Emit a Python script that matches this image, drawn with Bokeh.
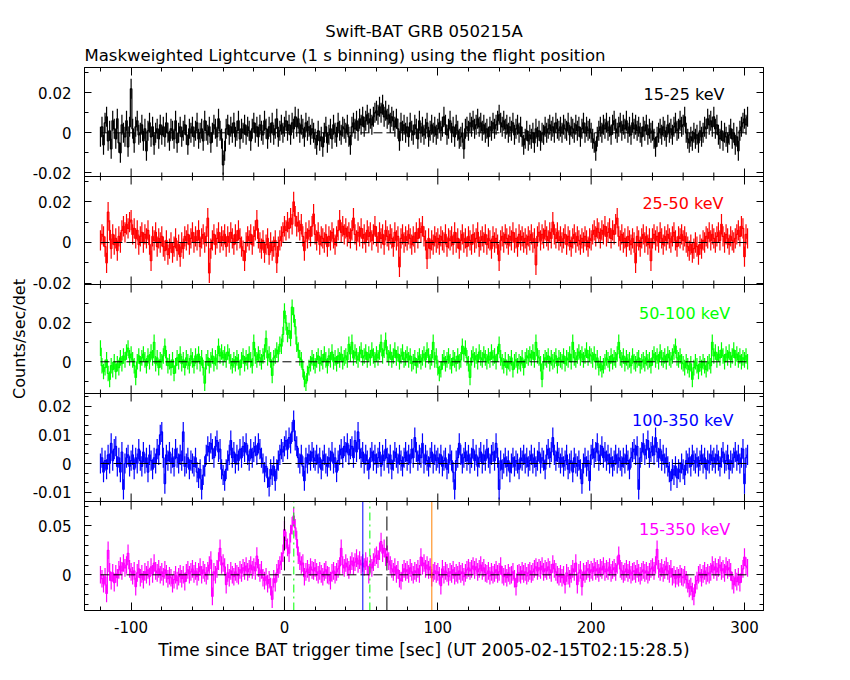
import numpy as np
from bokeh.plotting import figure
from bokeh.models import (Range1d, LinearAxis, SingleIntervalTicker, FixedTicker,
                          CustomJSTickFormatter, Span, Label, Title)
from bokeh.embed import file_html
from bokeh.resources import INLINE

# ---------------- data (1 s bins, rates in 1e-3 counts/sec/det) ----------------
T_START = -120  # centre of first 1-s bin [s since trigger]

RATE_15_25 = [
    -2, 3, -6, 5, 8, -4, 1, -8, 6, 2, -3, 7, -5, -10, 4, 0, -2, 6, -7, 3,
    22, 2, -5, 3, 6, -1, 0, 4, -4, 2, -9, 1, 5, -2, 3, -6, 0, 2, -3, 4,
    -1, 3, -2, 5, 0, -4, 2, 1, -3, 6, -5, 0, 3, -2, 1, 4, -1, -6, 2, 0,
    3, -2, 1, 5, -3, 0, 2, -4, 6, 1, -1, 3, -5, 0, 4, 2, -2, 7, 1, -3,
    -16, -9, 2, 4, -1, 3, 0, 5, -2, 1, 6, -3, 2, 0, 4, -1, 3, 1, -4, 2,
    5, 0, 3, -2, 4, 1, -1, 6, 2, -3, 3, 0, 5, -1, 2, 7, -2, 1, 4, 0,
    3, 6, 1, 4, -1, 5, 2, 8, 3, 7, 0, 4, 2, -2, 5, 1, 3, -1, 2, 0,
    -3, -6, 1, -4, -2, -7, 0, 3, -5, -1, 2, -3, 4, 0, -2, 5, 1, -1, 3, 2,
    0, 4, -2, -6, 3, 5, 2, 6, 1, 7, 4, 8, 3, 6, 9, 5, 7, 4, 8, 10,
    11, 9, 13, 10, 14, 8, 11, 7, 9, 5, 8, 6, 3, 7, 2, -4, 5, 1, 4, 0,
    3, -2, 5, 1, -1, 4, 2, -3, 6, 0, 3, -1, 2, 5, -2, 1, 4, 0, 3, -1,
    2, 5, 1, 3, 8, 4, -1, 2, 6, 0, 3, -2, 4, 1, -3, -2, 0, -8, 2, 3,
    1, 5, 3, 6, 2, 4, 7, 3, 5, 1, 4, 0, 2, -2, 3, 1, 5, 2, 4, 6,
    9, 5, 3, 6, 2, 4, 0, 3, 1, 5, -1, 2, 4, 0, 3, -2, -6, -3, 1, -4,
    -1, -3, 0, -5, 2, -2, 1, -4, 0, -1, 3, 0, 2, 4, 1, 3, 0, 5, 2, 1,
    3, 0, 4, 2, 1, 5, -1, 3, 2, 0, 4, 1, 3, -2, 2, 5, 0, 3, 1, 2,
    0, -3, -5, -9, -2, 1, 3, 0, 4, 2, 5, 1, 3, -1, 4, 6, 2, 0, 3, 5,
    1, 4, 2, 6, 0, 3, -1, 5, 2, 4, 1, 3, 0, -2, 3, 1, 4, -1, 2, 0,
    1, -3, -7, -2, 0, 2, -1, 3, 1, -2, 4, 0, 2, -1, 3, 5, 1, 2, 6, 3,
    4, 8, 0, -3, -5, -2, -4, 0, -3, -1, -5, 1, -2, 0, 3, 2, 7, 4, 6, 3,
    8, 2, 4, -1, -3, 1, -4, 0, -2, -5, -1, 2, -3, 0, -6, -2, -9, 1, 3, 5,
    7, 4, 8,
]

RATE_25_50 = [
    1, 4, 3, -2, -10, 15, 6, -3, 4, -1, 2, -4, 3, 0, 6, 8, 5, 9, 7, 10,
    11, 4, 7, 2, 6, -1, 3, 5, 0, 4, 2, 6, -1, -9, 3, 1, 5, -2, 2, 0,
    3, -2, -4, 1, -6, -3, 0, -5, -2, 2, -4, -1, -7, 0, -3, 3, 1, 4, -1, 2,
    5, 0, 3, 1, 6, -2, 2, 4, 0, 3, 12, -15, -3, 1, 4, -1, 2, 5, 0, 3,
    1, 4, -2, 3, 0, 5, 2, -1, 4, 1, 6, 2, -2, -4, -9, 0, 3, 1, 4, -1,
    3, 6, 11, 2, 0, -3, 1, -5, -1, 2, -6, 0, -4, -2, 1, -10, -2, 1, 3, 5,
    8, 6, 10, 7, 12, 9, 20, 13, 8, 10, 6, 9, 3, -4, 5, 2, 6, 3, 8, 14,
    4, 1, 5, -1, 3, 2, 0, 4, -2, 3, 1, 5, 2, -1, 3, 6, 11, 5, 8, 4,
    7, 3, 5, 2, 6, 12, 4, 1, 5, 3, 7, 2, 4, 0, 6, 3, 5, 1, 4, 8,
    3, 0, 5, 2, 4, -1, 6, 3, 1, 4, 2, -2, 5, 1, 3, -12, 2, 4, 0, 3,
    1, 4, 2, -1, 3, 0, 5, 2, 7, 5, 8, 3, 1, -8, 2, -3, 1, -1, 3, 0,
    2, -1, 3, 1, 0, 4, -2, 2, 1, 3, -1, 5, 0, 2, -3, 1, 4, 0, 2, -2,
    3, 1, -1, 4, 0, 2, 5, -2, 1, 3, 0, 4, -1, 2, 1, -3, 3, 0, 2, -1,
    -9, 1, 3, 0, 4, 2, -1, 3, 1, 5, 0, 2, -2, 4, 1, 3, 0, 2, -1, 3,
    1, 4, 0, 2, -11, 3, 5, 1, 4, 2, 6, 3, 1, 5, 2, 10, 4, 2, 5, 1,
    3, 0, 2, 4, -1, 3, 1, -2, 2, 4, 0, 3, 1, -1, 2, 0, 3, 1, -2, 2,
    1, 4, 6, 3, 7, 5, 2, 6, 4, 8, 3, 5, 7, 2, 6, 4, 9, 12, 3, 1,
    4, 0, 2, -2, 3, 1, -1, 2, 0, -10, 3, 1, -2, 2, 4, 0, 3, -1, 2, -9,
    2, 4, 1, 3, 0, 5, 2, -1, 3, 1, 4, 2, 0, 3, 5, 1, -2, 3, 2, 4,
    1, 3, 0, -2, -4, -1, -5, -3, 0, -2, -6, -1, -3, 1, 0, 3, 2, 5, 1, 4,
    2, 0, 3, 5, 1, 9, 3, 0, 4, 2, -1, 3, 1, 0, 2, 4, 6, 3, 8, 7,
    -7, 4, 2,
]

RATE_50_100 = [
    7, -2, -5, -3, 1, -6, -9, -2, -4, 0, -5, -1, -3, 2, -1, 3, 1, 5, 7, 2,
    4, 1, -2, -8, 0, 3, -1, 2, 4, 1, -2, 3, 0, 5, 2, 10, -1, 2, -3, 1,
    0, 3, 8, 2, -2, 0, -3, 1, -6, -2, 2, 0, 4, -1, 1, -3, 2, 0, -2, 3,
    1, -2, 3, 0, 4, -1, 2, -3, -11, 0, 2, -2, 1, 3, -1, 2, 0, 8, 3, 5,
    2, 4, 1, 5, 3, 0, -2, 1, -1, 2, 0, -3, 1, 3, -1, 2, 0, 4, 1, -2,
    10, 3, 1, 4, 2, 0, 3, 5, 12, 2, 4, 1, -7, 2, 3, 6, 4, 9, 8, 14,
    26, 20, 14, 16, 12, 28, 24, 18, 9, 6, 2, 1, -4, -9, -11, -6, -3, -1, 2, 0,
    -2, 1, 3, -1, 2, 0, 4, 1, -2, 3, 1, 5, 0, 2, -1, 3, 1, 4, 0, 2,
    3, 1, 9, 4, 10, 2, 5, 3, 1, 4, 6, 2, 3, 5, 1, 4, 2, 6, 3, 1,
    4, 2, 5, 10, 3, 6, 11, 4, 2, 5, 1, 3, 6, 2, 4, 0, 3, 5, 1, 2,
    4, 1, 3, -1, 0, 2, -2, 1, 3, 0, 2, 4, 1, 6, 3, 0, 2, 10, 1, 3,
    -3, -6, -4, 0, 2, -1, 1, 3, 0, -2, 2, 1, -1, 3, 0, 1, 8, 4, 7, 2,
    -1, -8, 2, 4, 1, 3, 0, 5, 2, 1, 4, 2, 0, 3, 1, 5, 2, 3, 0, 4,
    9, 2, 0, -2, 1, -3, 0, -1, 2, -4, 0, 1, -2, 0, -1, 2, -3, 1, 3, 2,
    4, 2, 5, 1, 10, 3, 2, -1, -9, 0, 2, 1, 3, -1, 2, 0, 1, 3, -2, 2,
    1, 0, 3, -1, 2, 1, 4, 0, 10, 2, 1, 3, 5, 2, 4, 1, 3, 6, 2, 4,
    3, 1, 4, 0, 2, -3, -1, -4, -2, 0, 2, 1, -1, 3, 0, 2, 1, 4, 10, 2,
    1, 3, -1, 2, 0, 1, -2, 3, 0, -1, 1, 2, -2, 0, 1, -1, 2, 0, 1, -2,
    2, 4, 1, 3, 0, 5, 2, 1, 3, 0, 4, 2, 1, 3, 5, 8, 2, 1, 3, 0,
    -1, -3, 0, -2, -4, -1, -9, -3, 0, -2, -5, -1, -3, 0, -2, -4, -1, 0, -2, 10,
    3, 5, 1, 4, 2, 6, 3, 0, 4, 2, 5, 1, 3, 6, 2, 4, 1, 3, 0, 2,
    1, 3, 0,
]

RATE_100_350 = [
    0, 2, -3, 1, -2, 3, 0, 7, 1, 5, 6, -1, 2, -3, 4, -9, 0, 2, 3, -1,
    1, 3, -2, 2, 0, 5, 1, -1, 4, 0, 2, -3, 3, 1, -2, 2, 0, 5, 3, 10,
    11, 2, -7, 3, 1, 4, 0, 2, -1, 5, 2, 0, 3, 1, 11, -1, 0, 2, -2, 1,
    0, -1, 2, -3, -5, -2, -9, -4, -1, 3, 6, 4, 7, 5, 2, 6, 8, 4, 5, -2,
    -4, -6, -2, 1, 3, 8, 2, 4, 0, 3, 1, 5, 2, 6, 4, 7, 3, 1, 5, 2,
    4, 6, 3, 7, 5, 2, 0, -3, -1, -5, -8, -2, -4, -1, -6, -2, 1, 3, 5, 4,
    6, 8, 5, 9, 7, 11, 15, 8, 6, 2, 0, 3, -1, -6, 2, 0, 3, 1, 4, 2,
    1, 3, 0, 2, -2, 1, 3, 0, -1, 2, 1, 4, 0, 2, -3, 1, 3, 5, 2, 6,
    4, 7, 3, 5, 6, 2, 8, 4, 11, 5, 2, 4, 0, 3, 1, -2, 2, 4, 1, 3,
    0, 2, 4, -1, 3, 1, 5, 2, 0, 3, -2, 1, 4, 2, 0, 3, 1, -1, 2, 4,
    1, 3, 0, 5, 2, 9, 4, 1, 3, 2, 7, 0, 3, 1, -1, 2, 4, 0, 3, 1,
    2, 0, 3, -1, 1, 2, -2, 0, 3, 1, -3, -9, 1, 2, 7, 3, 0, 2, 4, 1,
    3, 0, 2, 5, 1, 3, -1, 2, 4, 0, 3, 1, 5, 2, 0, 3, 4, 1, 7, 2,
    -9, 1, -2, 0, 2, -1, 1, -3, 0, 2, -1, 1, 0, -2, 2, 1, 3, 0, 2, -1,
    1, 3, 0, 2, -1, 1, 4, 0, 2, 1, -2, 3, 5, 2, 4, 9, 3, 1, 4, 2,
    0, 2, -1, 1, 3, -2, 0, 1, -3, 2, 0, -1, 1, -2, -7, 0, 2, -1, 1, -6,
    3, 5, 2, 4, 7, 1, 3, 6, 2, 4, 1, 3, 0, 2, -1, 1, 3, 0, 2, 1,
    -1, 2, 0, 3, 1, -2, 2, 4, 5, 3, 6, -9, 2, 4, 7, 3, 5, 8, 2, 4,
    6, 3, 9, 4, 2, 5, 1, 3, 0, 2, -1, -3, -6, -2, -4, -1, -5, -2, -3, 0,
    -2, -4, 1, 0, 2, -1, 3, 1, 0, 2, -1, 1, 3, 0, 2, -2, 1, 0, 3, 1,
    2, 0, 3, 1, -1, 2, 4, 0, 1, 3, -2, 1, 0, 2, 4, 1, 3, 0, 2, 5,
    -7, 2, 3,
]

RATE_15_350 = [
    0, -4, -9, -2, -19, 25, 3, -6, 2, -8, 1, -3, 5, 9, 4, 12, 7, 10, 22, 6,
    3, -1, 4, -12, 2, 6, -3, 1, -5, 3, 0, 5, -2, 8, 1, 12, 4, 2, 6, 0,
    3, -2, 5, 1, -4, -1, -3, -9, -5, 0, -6, -2, 1, -4, 0, -7, 2, 5, 0, 3,
    6, 1, 4, -2, 3, 8, 0, 5, 2, -1, 4, 10, 15, -22, 3, 0, 6, 14, 27, 10,
    12, 8, -10, 2, -3, 4, 0, -2, 3, 1, -1, 5, 2, 7, 4, 9, 3, 6, 10, 5,
    8, 4, 19, 7, 2, 5, -3, -6, -2, -9, -5, -12, -25, -4, -8, 2, 6, 10, 14, 22,
    46, 35, 28, 22, 42, 50, 60, 48, 36, 20, 14, 10, 12, -2, 3, 6, 2, 8, 5, 4,
    7, 3, 0, 4, 1, -2, 3, 5, 0, -1, -6, 2, 4, 0, 3, 6, 9, 27, 10, 7,
    12, 8, 5, 10, 14, 9, 13, 17, 11, 15, 10, 12, 8, 14, 9, 0, 11, 7, 13, 18,
    20, 16, 24, 34, 22, 27, 18, 21, 14, 10, 6, 3, 8, 1, 5, -4, -6, 2, 6, 3,
    5, 1, 7, 3, 0, 4, 2, 6, 1, 18, 9, 12, 6, 10, 5, 8, -3, 2, 4, 1,
    3, -1, -11, 6, 0, 4, 2, -2, 3, 1, 5, -1, 2, 0, 4, 1, 3, -2, 2, 5,
    7, 4, 6, 9, 5, 8, 3, 6, 10, 4, 7, 2, 1, 4, -1, 3, 0, 2, 5, 1,
    3, 9, 0, -2, 1, -3, 2, -1, 0, 3, -4, -12, 1, 2, 0, 4, 1, 3, -1, 2,
    4, 1, 3, 6, 8, 4, 7, 5, 9, 3, 6, 4, 8, 5, 2, 11, 6, 3, 0, -2,
    1, -3, 0, -10, 2, -1, -4, 1, 6, 3, 12, -10, 2, 5, -12, 3, 1, 4, 6, 2,
    5, 3, 8, 4, 6, 2, 7, 5, 9, 3, 6, 4, 8, 2, 5, 7, 3, 10, 20, 6,
    4, 1, 3, 6, 2, 5, 0, 3, 4, 1, 6, 2, -1, 3, 5, 2, 4, 0, 3, 6,
    8, 4, 10, 26, 6, 3, 7, 2, 5, 9, 4, 1, 6, -2, 0, -4, -1, -3, 1, -2,
    -3, 0, -5, -9, -14, -12, -17, -22, -10, -6, 0, 2, -3, 1, 4, -1, 2, 0, 3, 10,
    5, 8, 3, 7, 10, 4, 6, 2, 9, 5, 7, 3, -6, -10, -3, -7, -2, -8, 1, 6,
    18, 9, 7,
]

# typical 1-sigma error per bin (1e-3 counts/sec/det)
ERR_15_25 = 5.0
ERR_25_50 = 5.0
ERR_50_100 = 4.0
ERR_100_350 = 3.5
ERR_15_350 = 9.0

BANDS = ["15-25 keV", "25-50 keV", "50-100 keV", "100-350 keV", "15-350 keV"]

# event markers drawn in the 15-350 keV panel [s]
MARKER_TIMES = [0.0, 6.1, 51.1, 55.7, 66.8, 96.1]

# ---------------- styling / layout ----------------
FONT = "DejaVu Sans"
LW = 1.2
MARKER_STYLE = [("black", "14 6"), ("#00ff00", "8 4 2 4"), ("#0000ff", "solid"),
                ("#00ff00", "8 4 2 4"), ("black", "14 6"), ("#ff8000", "solid")]

FRAME_W = 679
PANEL_H = [109, 108, 109, 108, 109]          # pixel height of each stacked panel
FRAME_H = sum(PANEL_H)
X_LO, X_HI = -130.4, 312.4
X_MAJOR, X_MINOR = 100, 20

panels = [
    dict(vals=RATE_15_25, err=ERR_15_25, color="black", yr=(-0.02185, 0.03265),
         major=0.02, nminor=2, lx=287.0, ly=0.019),
    dict(vals=RATE_25_50, err=ERR_25_50, color="#ff0000", yr=(-0.02069, 0.03251),
         major=0.02, nminor=2, lx=286.3, ly=0.019),
    dict(vals=RATE_50_100, err=ERR_50_100, color="#00ff00", yr=(-0.01626, 0.03964),
         major=0.02, nminor=2, lx=290.7, ly=0.0249),
    dict(vals=RATE_100_350, err=ERR_100_350, color="#0000ff", yr=(-0.01324, 0.02439),
         major=0.01, nminor=3, lx=292.8, ly=0.0149),
    dict(vals=RATE_15_350, err=ERR_15_350, color="#ff00ff", yr=(-0.03643, 0.0748),
         major=0.05, nminor=5, lx=290.7, ly=0.0459),
]

# main y range is in "stack pixels" (0 = bottom of lowest panel)
p = figure(frame_width=FRAME_W, frame_height=FRAME_H,
           x_range=Range1d(X_LO, X_HI), y_range=Range1d(0, FRAME_H),
           x_axis_type=None, y_axis_type=None, title=None,
           output_backend="svg", toolbar_location=None,
           min_border_left=84, min_border_right=63, min_border_top=67, min_border_bottom=10,
           background_fill_color="white", border_fill_color="white",
           outline_line_color="black")

# panel bottoms in stack pixels
bottoms = []
acc = FRAME_H
for h in PANEL_H:
    acc -= h
    bottoms.append(acc)

major_pos, minor_pos, tick_txt = [], [], []
for k, pd_ in enumerate(panels):
    lo, hi = pd_["yr"]
    h, b = PANEL_H[k], bottoms[k]
    s = (hi - lo) / h
    p.extra_y_ranges[f"p{k}"] = Range1d(lo - b * s, hi + (FRAME_H - b - h) * s)
    step = pd_["major"] / pd_["nminor"]
    for i in range(int(np.ceil(lo / step)), int(np.floor(hi / step)) + 1):
        v = i * step
        g = b + (v - lo) / s
        if i % pd_["nminor"] == 0:
            major_pos.append(g)
            tick_txt.append("0" if i == 0 else f"{v:.2f}")
        else:
            minor_pos.append(g)

yticker = FixedTicker(ticks=major_pos, minor_ticks=minor_pos)
yfmt = CustomJSTickFormatter(args=dict(pos=major_pos, txt=tick_txt), code="""
for (let i = 0; i < pos.length; i++) { if (Math.abs(tick - pos[i]) < 1e-6) return txt[i]; }
return '';
""")
xticker = SingleIntervalTicker(interval=X_MAJOR, num_minor_ticks=X_MAJOR // X_MINOR)
xfmt = CustomJSTickFormatter(code="return tick.toFixed(0);")


def style_axis(ax, show_labels, tick_major):
    ax.axis_line_color = "black"
    ax.major_tick_line_color = "black"
    ax.minor_tick_line_color = "black"
    ax.major_tick_in = tick_major
    ax.major_tick_out = 0
    ax.minor_tick_in = 4
    ax.minor_tick_out = 0
    ax.major_label_text_font = FONT
    ax.major_label_text_color = "black"
    ax.axis_label_text_font = FONT
    ax.axis_label_text_font_style = "normal"
    ax.axis_label_text_color = "black"
    if show_labels:
        ax.major_label_text_font_size = "15px"
    else:
        ax.major_label_text_font_size = "0px"
        ax.major_label_standoff = 0


left = LinearAxis(ticker=yticker, formatter=yfmt, axis_label="Counts/sec/det")
style_axis(left, True, 7)
left.major_label_standoff = 13
left.axis_label_text_font_size = "16px"
left.axis_label_standoff = 1
p.add_layout(left, "left")

right = LinearAxis(ticker=yticker)
style_axis(right, False, 7)
p.add_layout(right, "right")

top = LinearAxis(ticker=xticker)
style_axis(top, False, 8)
p.add_layout(top, "above")

bottom = LinearAxis(ticker=xticker, formatter=xfmt,
                    axis_label="Time since BAT trigger time [sec] (UT 2005-02-15T02:15:28.5)")
style_axis(bottom, True, 8)
bottom.major_label_standoff = 10
bottom.axis_label_text_font_size = "17px"
bottom.axis_label_standoff = 4
p.add_layout(bottom, "below")

p.add_layout(Title(text="Maskweighted Lightcurve (1 s binning) using the flight position",
                   align="left", text_font=FONT, text_font_size="16.5px",
                   text_font_style="normal", text_color="black", standoff=6,
                   text_line_height=0.85), "above")
p.add_layout(Title(text="Swift-BAT GRB 050215A", align="center", text_font=FONT,
                   text_font_size="16.5px", text_font_style="normal",
                   text_color="black", standoff=0), "above")

# interior panel separators with inward ticks on both sides
xt_all = np.arange(np.ceil(X_LO / X_MINOR) * X_MINOR, X_HI, X_MINOR)
xt_len = np.where(np.isclose(xt_all % X_MAJOR, 0), 8, 4)
for b in bottoms[:-1]:
    p.add_layout(Span(location=b, dimension="width", line_color="black", line_width=1))
    p.segment(x0=xt_all, x1=xt_all, y0=b - xt_len, y1=b + xt_len, line_color="black", line_width=1)

for k, pd_ in enumerate(panels):
    rn = f"p{k}"
    vals = np.asarray(pd_["vals"], dtype=float) * 1e-3
    err = pd_["err"] * 1e-3
    t = T_START + np.arange(len(vals))
    c = pd_["color"]
    p.segment(x0=t, y0=vals - err, x1=t, y1=vals + err, line_color=c, line_width=LW, y_range_name=rn)
    p.step(x=t, y=vals, mode="center", line_color=c, line_width=LW, y_range_name=rn)
    p.line(x=[t.min(), t.max()], y=[0, 0], line_color="black", line_width=1,
           line_dash="9 4", y_range_name=rn)
    p.add_layout(Label(x=pd_["lx"], y=pd_["ly"], y_range_name=rn, text=BANDS[k],
                       text_align="right", text_baseline="middle", text_font=FONT,
                       text_font_size="16px", text_color=c))

# trigger / interval markers in the 15-350 keV panel
lo5, hi5 = panels[-1]["yr"]
for tm, (c, d) in zip(MARKER_TIMES, MARKER_STYLE):
    p.line(x=[tm, tm], y=[lo5, hi5], line_color=c, line_dash=d, line_width=1,
           y_range_name=f"p{len(panels) - 1}")

open("out.html", "w").write(file_html(p, INLINE))
